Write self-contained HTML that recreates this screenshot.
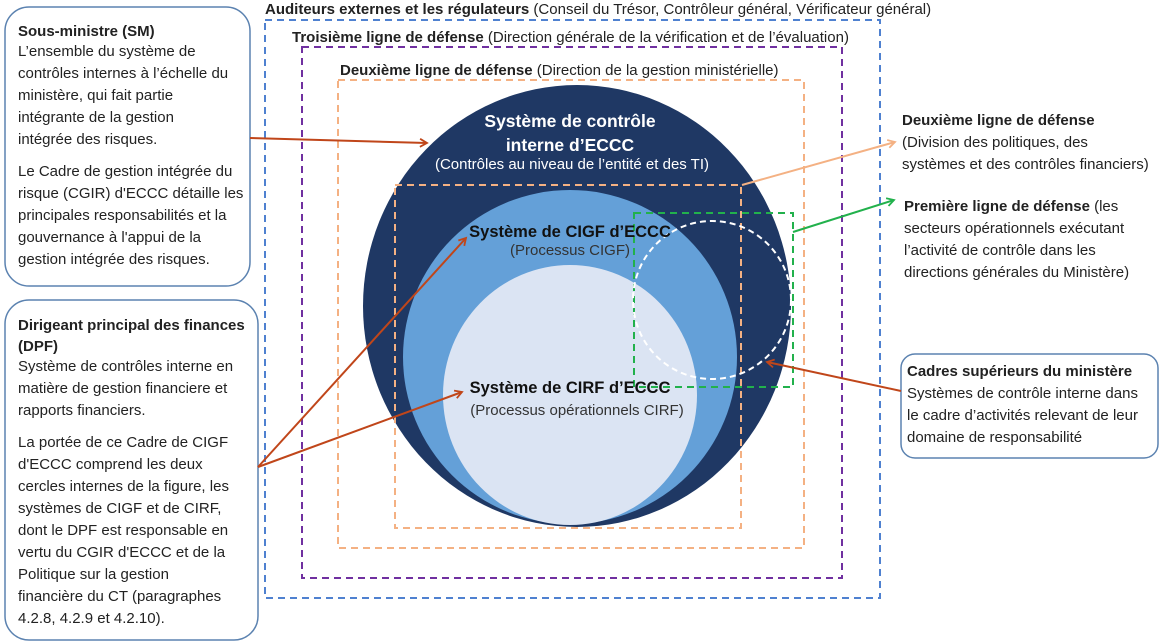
<!DOCTYPE html>
<html><head><meta charset="utf-8"><style>
html,body{margin:0;padding:0;background:#fff;}
svg{display:block;}
text{font-family:"Liberation Sans",sans-serif;font-size:15px;fill:#222;}
.b{font-weight:bold;}
</style></head><body>
<svg width="1161" height="644" viewBox="0 0 1161 644" xmlns="http://www.w3.org/2000/svg">
<defs>
<marker id="ar" markerWidth="10" markerHeight="10" refX="8" refY="5" orient="auto" markerUnits="userSpaceOnUse"><path d="M1,1 L8,5 L1,9" fill="none" stroke="#c0461a" stroke-width="1.8"/></marker>
<marker id="ap" markerWidth="10" markerHeight="10" refX="8" refY="5" orient="auto" markerUnits="userSpaceOnUse"><path d="M1,1 L8,5 L1,9" fill="none" stroke="#f4b183" stroke-width="1.8"/></marker>
<marker id="ag" markerWidth="10" markerHeight="10" refX="8" refY="5" orient="auto" markerUnits="userSpaceOnUse"><path d="M1,1 L8,5 L1,9" fill="none" stroke="#22b14c" stroke-width="1.8"/></marker>
</defs>
<rect x="265" y="20" width="615" height="578" fill="none" stroke="#4f81d0" stroke-width="2" stroke-dasharray="7,5"/>
<rect x="302" y="47" width="540" height="531" fill="none" stroke="#7030a0" stroke-width="2" stroke-dasharray="7,5"/>
<rect x="338" y="80" width="466" height="468" fill="none" stroke="#f4b183" stroke-width="2" stroke-dasharray="7,5"/>
<text x="265" y="14"><tspan class="b">Auditeurs externes et les régulateurs</tspan> (Conseil du Trésor, Contrôleur général, Vérificateur général)</text>
<text x="292" y="42"><tspan class="b">Troisième ligne de défense</tspan> (Direction générale de la vérification et de l’évaluation)</text>
<text x="340" y="75"><tspan class="b">Deuxième ligne de défense</tspan> (Direction de la gestion ministérielle)</text>
<ellipse cx="577" cy="306" rx="214" ry="221" fill="#1f3864"/>
<circle cx="570" cy="357" r="167" fill="#64a0d8"/>
<ellipse cx="570" cy="395" rx="127" ry="130" fill="#dbe4f3"/>
<rect x="395" y="185" width="346" height="343" fill="none" stroke="#f4b183" stroke-width="2" stroke-dasharray="7,5"/>
<rect x="634" y="213" width="159" height="174" fill="none" stroke="#22b14c" stroke-width="2" stroke-dasharray="7,5"/>
<circle cx="712" cy="300" r="79" fill="none" stroke="#fff" stroke-width="2" stroke-dasharray="6,4"/>
<text x="570" y="127" text-anchor="middle" class="b" style="fill:#fff;font-size:17.5px">Système de contrôle</text>
<text x="570" y="151" text-anchor="middle" class="b" style="fill:#fff;font-size:17.5px">interne d’ECCC</text>
<text x="572" y="169" text-anchor="middle" style="fill:#fff">(Contrôles au niveau de l’entité et des TI)</text>
<text x="570" y="237" text-anchor="middle" class="b" style="fill:#111;font-size:16.5px">Système de CIGF d’ECCC</text>
<text x="570" y="255" text-anchor="middle" style="fill:#333">(Processus CIGF)</text>
<text x="570" y="393" text-anchor="middle" class="b" style="fill:#111;font-size:16.5px">Système de CIRF d’ECCC</text>
<text x="577" y="415" text-anchor="middle" style="fill:#333">(Processus opérationnels CIRF)</text>
<rect x="5" y="7" width="245" height="279" rx="24" fill="#fff" stroke="#5b82b0" stroke-width="1.5"/>
<text x="18" y="36" class="b">Sous-ministre (SM)</text>
<text x="18" y="56">L’ensemble du système de</text>
<text x="18" y="78">contrôles internes à l’échelle du</text>
<text x="18" y="100">ministère, qui fait partie</text>
<text x="18" y="122">intégrante de la gestion</text>
<text x="18" y="144">intégrée des risques.</text>
<text x="18" y="176">Le Cadre de gestion intégrée du</text>
<text x="18" y="198">risque (CGIR) d'ECCC détaille les</text>
<text x="18" y="220">principales responsabilités et la</text>
<text x="18" y="242">gouvernance à l'appui de la</text>
<text x="18" y="264">gestion intégrée des risques.</text>
<rect x="5" y="300" width="253" height="340" rx="24" fill="#fff" stroke="#5b82b0" stroke-width="1.5"/>
<text x="18" y="330" class="b">Dirigeant principal des finances</text>
<text x="18" y="351" class="b">(DPF)</text>
<text x="18" y="371">Système de contrôles interne en</text>
<text x="18" y="393">matière de gestion financiere et</text>
<text x="18" y="415">rapports financiers.</text>
<text x="18" y="447">La portée de ce Cadre de CIGF</text>
<text x="18" y="469">d'ECCC comprend les deux</text>
<text x="18" y="491">cercles internes de la figure, les</text>
<text x="18" y="513">systèmes de CIGF et de CIRF,</text>
<text x="18" y="535">dont le DPF est responsable en</text>
<text x="18" y="557">vertu du CGIR d'ECCC et de la</text>
<text x="18" y="579">Politique sur la gestion</text>
<text x="18" y="601">financière du CT (paragraphes</text>
<text x="18" y="623">4.2.8, 4.2.9 et 4.2.10).</text>
<text x="902" y="125" class="b">Deuxième ligne de défense</text>
<text x="902" y="147">(Division des politiques, des</text>
<text x="902" y="169">systèmes et des contrôles financiers)</text>
<text x="904" y="211"><tspan class="b">Première ligne de défense</tspan> (les</text>
<text x="904" y="233">secteurs opérationnels exécutant</text>
<text x="904" y="255">l’activité de contrôle dans les</text>
<text x="904" y="277">directions générales du Ministère)</text>
<rect x="901" y="354" width="257" height="104" rx="14" fill="#fff" stroke="#5b82b0" stroke-width="1.5"/>
<text x="907" y="376" class="b">Cadres supérieurs du ministère</text>
<text x="907" y="398">Systèmes de contrôle interne dans</text>
<text x="907" y="420">le cadre d’activités relevant de leur</text>
<text x="907" y="442">domaine de responsabilité</text>
<line x1="250" y1="138" x2="427" y2="143" stroke="#c0461a" stroke-width="2" marker-end="url(#ar)"/>
<line x1="258" y1="467" x2="466" y2="238" stroke="#c0461a" stroke-width="2" marker-end="url(#ar)"/>
<line x1="258" y1="467" x2="462" y2="392" stroke="#c0461a" stroke-width="2" marker-end="url(#ar)"/>
<line x1="901" y1="391" x2="767" y2="362" stroke="#c0461a" stroke-width="2" marker-end="url(#ar)"/>
<line x1="742" y1="185" x2="895" y2="142" stroke="#f4b183" stroke-width="2" marker-end="url(#ap)"/>
<line x1="793" y1="232" x2="894" y2="200" stroke="#22b14c" stroke-width="2" marker-end="url(#ag)"/>
</svg>
</body></html>
